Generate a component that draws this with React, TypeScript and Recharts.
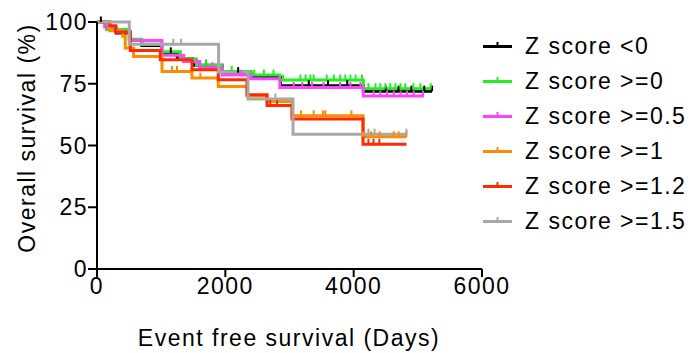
import React from 'react';
import { LineChart, Line, XAxis, YAxis, Legend, Label } from 'recharts';

type Step = [number, number];

const xTicks = [0, 2000, 4000, 6000];
const yTicks = [0, 25, 50, 75, 100];

const seriesNames = ['Z score <0', 'Z score >=0', 'Z score >=0.5', 'Z score >=1', 'Z score >=1.2', 'Z score >=1.5'];
const seriesColors = ['#000000', '#22ee22', '#ff44ff', '#ff8c00', '#ff2a00', '#a8a8a8'];

// survival steps: [day, % surviving from that day]
const blackSteps: Step[] = [[0, 100], [150, 97.5], [300, 95.5], [520, 92.5], [700, 90.5], [1010, 87.5], [1250, 85], [1500, 82.5], [1950, 79.5], [2400, 77.5], [2860, 74.2], [4150, 72]];
const greenSteps: Step[] = [[0, 100], [150, 97], [500, 93], [700, 91], [1010, 88], [1300, 85], [1550, 82.5], [1950, 80], [2400, 78.5], [2850, 76.5], [4150, 73]];
const magentaSteps: Step[] = [[0, 100], [120, 98], [300, 96], [520, 92.5], [1010, 86.5], [1350, 84], [1600, 81.5], [1950, 78.5], [2400, 77], [2850, 73.5], [4150, 70]];
const orangeSteps: Step[] = [[0, 100], [200, 96.5], [400, 94.2], [440, 89.5], [570, 86], [1013, 80], [1480, 77.3], [1890, 73.9], [2340, 70], [2650, 67.8], [3040, 62], [4146, 53.5]];
const redSteps: Step[] = [[0, 100], [200, 98.5], [290, 96], [520, 88.5], [987, 84.7], [1480, 80.7], [1890, 76.6], [2338, 70.5], [2650, 66.2], [3040, 60.7], [4146, 50.5]];
const graySteps: Step[] = [[0, 100], [503, 91], [1895, 79.7], [2353, 68.8], [3055, 54.6]];

// censored observations (days)
const blackCensor = [60, 1150, 1700, 2200, 3300, 3600, 3900, 4500, 4700, 4900, 5100, 5222];
const greenCensor = [1700, 2100, 2450, 2600, 2750, 2900, 3170, 3250, 3325, 3377, 3580, 3690, 3790, 3870, 3950, 4030, 4130, 4230, 4340, 4415, 4495, 4570, 4650, 4730, 4805, 4930, 5040, 5200];
const magentaCensor = [1800, 2250, 3065, 3200, 3350, 3530, 3790, 3950, 4105, 4310, 4415, 4520, 4625, 4730, 4830, 4935, 5080];
const orangeCensor = [1170, 1247, 1610, 3180, 3377, 3523, 3560, 3965, 4146.5, 4272, 4406, 4624, 4702, 4822];
const redCensor = [2700, 2805, 4230, 4310, 4400];
const grayCensor = [1190, 1310, 2780, 4230, 4325, 4822];

const endDays = [5222, 5222, 5093, 4822, 4822, 4822];

const allSteps = [blackSteps, greenSteps, magentaSteps, orangeSteps, redSteps, graySteps];
const allCensor = [blackCensor, greenCensor, magentaCensor, orangeCensor, redCensor, grayCensor];

type Pt = { t: number; s: number; c: boolean };

function levelAt(steps: Step[], t: number) {
  let s = steps[0][1];
  for (const [t0, v] of steps) if (t0 <= t) s = v;
  return s;
}

function buildCurve(steps: Step[], censor: number[], end: number): Pt[] {
  const pts: Pt[] = steps.map(([t, s]) => ({ t, s, c: false }));
  censor.forEach((t) => pts.push({ t, s: levelAt(steps, t), c: true }));
  if (!censor.includes(end)) pts.push({ t: end, s: levelAt(steps, end), c: false });
  return pts.sort((a, b) => a.t - b.t);
}

const curves = allSteps.map((st, i) => buildCurve(st, allCensor[i], endDays[i]));

const font = '"Liberation Sans", Arial, sans-serif';
const textStyle = { fontFamily: font, fontSize: 23, letterSpacing: 1.5, fill: '#000' };

const censorTick = (color: string) => (props: any) => {
  const { cx, cy, payload, index } = props;
  if (!payload.c) return <g key={index} />;
  return <line key={index} x1={cx} x2={cx} y1={cy} y2={cy - 5.5} stroke={color} strokeWidth={2} />;
};

const renderLegend = () => (
  <div style={{ fontFamily: font, fontSize: 23, letterSpacing: 1.5, color: '#000' }}>
    {seriesNames.map((name, i) => (
      <div key={name} style={{ height: 35, display: 'flex', alignItems: 'center' }}>
        <svg width={43} height={35} style={{ flex: 'none' }}>
          <line x1={1} x2={30} y1={17.5} y2={17.5} stroke={seriesColors[i]} strokeWidth={3} />
          <line x1={15.5} x2={15.5} y1={17.5} y2={13} stroke={seriesColors[i]} strokeWidth={2} />
        </svg>
        <span style={{ whiteSpace: 'nowrap' }}>{name}</span>
      </div>
    ))}
  </div>
);

export default function App() {
  return (
    <div style={{ position: 'absolute', left: 0, top: 0, width: 691, height: 353, background: '#fff' }}>
      <LineChart width={691} height={353} margin={{ top: 22, right: 209, bottom: 0, left: 0 }}>
        <XAxis
          type="number"
          dataKey="t"
          domain={[0, 6000]}
          ticks={xTicks}
          allowDuplicatedCategory={false}
          height={84}
          stroke="#000"
          strokeWidth={2}
          tickSize={8}
          tickMargin={1}
          tick={textStyle}
          tickLine={{ stroke: '#000', strokeWidth: 2 }}
        >
          <Label
            content={() => (
              <text x={289} y={346} textAnchor="middle" style={textStyle}>
                Event free survival (Days)
              </text>
            )}
          />
        </XAxis>
        <YAxis
          type="number"
          domain={[0, 100]}
          ticks={yTicks}
          width={97}
          stroke="#000"
          strokeWidth={2}
          tickSize={9}
          tickMargin={0}
          tick={textStyle}
          tickLine={{ stroke: '#000', strokeWidth: 2 }}
        >
          <Label
            content={() => (
              <text x={35} y={138} transform="rotate(-90 35 138)" textAnchor="middle" style={textStyle}>
                Overall survival (%)
              </text>
            )}
          />
        </YAxis>
        <Legend
          layout="vertical"
          align="center"
          verticalAlign="middle"
          content={renderLegend}
          wrapperStyle={{ left: 482, top: 29, width: 209 }}
        />
        {curves.map((data, i) => (
          <Line
            key={seriesNames[i]}
            data={data}
            dataKey="s"
            name={seriesNames[i]}
            type="stepAfter"
            stroke={seriesColors[i]}
            strokeWidth={3}
            dot={censorTick(seriesColors[i])}
            activeDot={false}
            isAnimationActive={false}
          />
        ))}
      </LineChart>
    </div>
  );
}
